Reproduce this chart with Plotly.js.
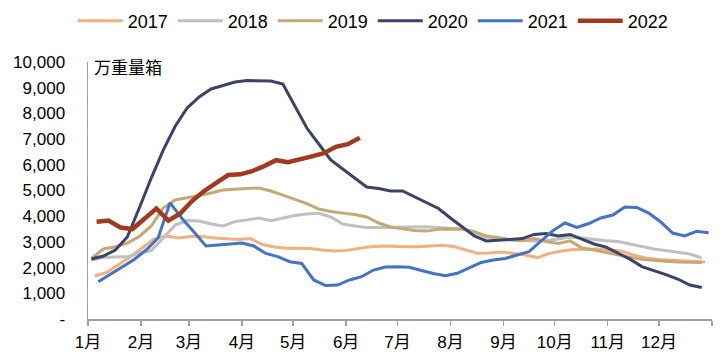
<!DOCTYPE html>
<html>
<head>
<meta charset="utf-8">
<script src="https://cdn.plot.ly/plotly-3.0.1.min.js"></script>
<style>html,body{margin:0;padding:0;background:#fff;}#chart{width:728px;height:364px;}</style>
</head>
<body>
<div id="chart"></div>
<script>
// Weekly data (万重量箱), plotted on a common calendar year
const years = ['2017', '2018', '2019', '2020', '2021', '2022'];
// first observation day-of-year (0 = Jan 1) for each year
const startDays = [4, 2, 2, 2, 6, 5];

const v2017 = [1673,1810,2120,2430,2780,3130,3230,3150,3210,3210,3150,3130,3090,3130,2900,2800,2750,2750,2740,2685,2645,2670,2740,2810,2840,2820,2810,2810,2840,2865,2820,2685,2555,2570,2605,2550,2490,2390,2555,2645,2705,2710,2723,2685,2645,2490,2375,2315,2285,2255,2235,2217];
const v2018 = [2295,2390,2410,2420,2570,2665,3150,3655,3830,3810,3695,3620,3790,3870,3930,3825,3930,4025,4085,4110,3970,3695,3620,3565,3560,3565,3590,3590,3590,3560,3530,3500,3385,3190,3110,3075,3050,3035,3050,3110,3190,3150,3090,3045,3015,2920,2800,2725,2665,2590,2530,2375];
const v2019 = [2355,2723,2810,2955,3210,3620,4318,4630,4720,4800,4900,5018,5057,5076,5100,4980,4820,4650,4490,4280,4180,4120,4065,3970,3735,3580,3500,3440,3420,3490,3500,3490,3400,3230,3170,3090,3050,3130,3015,2940,3040,2760,2684,2590,2470,2400,2320,2275,2250,2217,2205,2200];
const v2020 = [2334,2450,2684,3190,4318,5485,6574,7500,8208,8640,8950,9100,9220,9280,9280,9260,9140,8290,7430,6810,6190,5835,5490,5135,5076,4980,4980,4750,4510,4300,3930,3580,3230,3035,3050,3090,3130,3290,3330,3230,3290,3110,2920,2800,2570,2330,2040,1890,1730,1556,1320,1225];
const v2021 = [1450,1730,2040,2315,2684,3150,4520,3910,3385,2840,2880,2920,2960,2840,2550,2430,2230,2160,1520,1300,1320,1520,1645,1905,2020,2035,2010,1890,1770,1685,1780,1985,2200,2295,2355,2490,2620,3035,3440,3735,3560,3715,3930,4045,4355,4340,4120,3775,3345,3230,3410,3360];
const v2022 = [3780,3830,3560,3500,3900,4300,3830,4110,4600,4980,5300,5600,5630,5750,5950,6180,6100,6200,6330,6450,6700,6800,7050];

const seriesValues = [v2017, v2018, v2019, v2020, v2021, v2022];
const colors = ['#F2B07E', '#C0C0C0', '#C9A775', '#3B4468', '#4472C4', '#A13A1F'];
const widths = [3, 3, 3, 3, 3, 4.5];

const monthTickVals = ['2021-01-01','2021-02-01','2021-03-01','2021-04-01','2021-05-01','2021-06-01','2021-07-01','2021-08-01','2021-09-01','2021-10-01','2021-11-01','2021-12-01','2022-01-01'];
const monthTickText = ['1月','2月','3月','4月','5月','6月','7月','8月','9月','10月','11月','12月',''];
const yTickVals = [0,1000,2000,3000,4000,5000,6000,7000,8000,9000,10000];
const yTickText = ['-','1,000','2,000','3,000','4,000','5,000','6,000','7,000','8,000','9,000','10,000'];

function weekDates(startDay, n) {
  const out = [];
  for (let k = 0; k < n; k++) {
    const d = new Date(Date.UTC(2021, 0, 1 + startDay + 7 * k));
    out.push(d.toISOString().slice(0, 10));
  }
  return out;
}

const FONT = 'Arial, "Liberation Sans", "Noto Sans CJK SC", sans-serif';

const traces = years.map((y, i) => ({
  type: 'scatter',
  mode: 'lines',
  name: y,
  x: weekDates(startDays[i], seriesValues[i].length),
  y: seriesValues[i],
  line: {color: colors[i], width: widths[i]},
  hoverinfo: 'x+y+name'
}));

const layout = {
  width: 728,
  height: 364,
  margin: {l: 88, r: 16, t: 62, b: 45},
  paper_bgcolor: '#ffffff',
  plot_bgcolor: '#ffffff',
  font: {family: FONT, size: 17, color: '#000000'},
  showlegend: true,
  legend: {
    orientation: 'h',
    xref: 'container', yref: 'container',
    x: 0.512, xanchor: 'center',
    y: 1 - 21 / 364, yanchor: 'middle',
    font: {family: FONT, size: 18, color: '#000'},
    itemwidth: 45,
    entrywidth: 40,
    entrywidthmode: 'pixels',
    tracegroupgap: 0
  },
  xaxis: {
    type: 'date',
    range: ['2021-01-01', '2022-01-01'],
    tickmode: 'array',
    tickvals: monthTickVals,
    ticktext: monthTickText,
    ticks: 'outside',
    ticklen: 5,
    tickwidth: 1.5,
    tickcolor: '#A0A0A0',
    showline: true,
    linecolor: '#A0A0A0',
    linewidth: 1.5,
    showgrid: false,
    zeroline: false,
    tickfont: {family: FONT, size: 17},
    ticklabelstandoff: 2
  },
  yaxis: {
    range: [0, 10000],
    tickmode: 'array',
    tickvals: yTickVals,
    ticktext: yTickText,
    ticks: '',
    showline: true,
    linecolor: '#A0A0A0',
    linewidth: 1.5,
    showgrid: false,
    zeroline: false,
    tickfont: {family: FONT, size: 17},
    ticklabelstandoff: 18
  },
  annotations: [{
    text: '万重量箱',
    xref: 'paper', yref: 'paper',
    x: 0, y: 1,
    xanchor: 'left', yanchor: 'middle',
    xshift: 4, yshift: -4,
    showarrow: false,
    font: {family: '"Noto Sans CJK SC", sans-serif', size: 17, color: '#000'}
  }]
};

Plotly.newPlot('chart', traces, layout, {displayModeBar: false, staticPlot: true});
</script>
</body>
</html>
